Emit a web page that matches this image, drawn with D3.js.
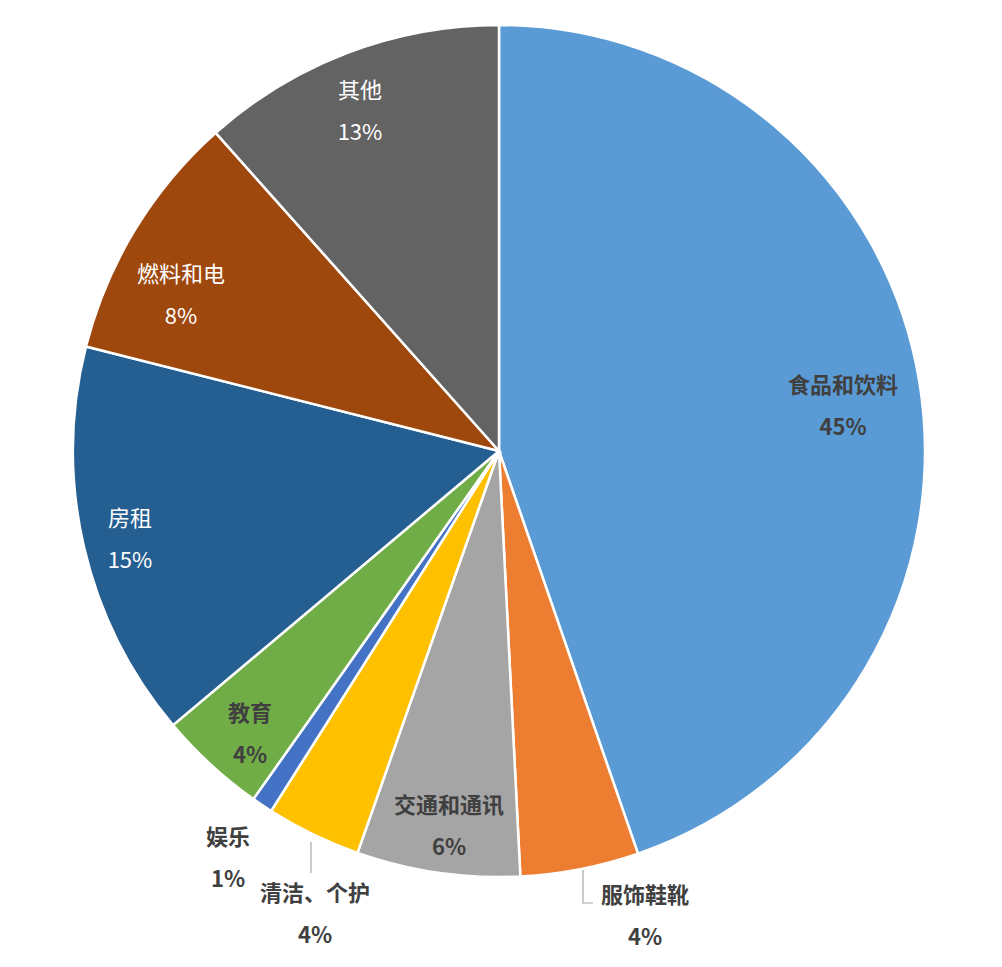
<!DOCTYPE html>
<html><head><meta charset="utf-8">
<script src="https://cdn.jsdelivr.net/npm/d3@7"></script>
<style>body{margin:0;background:#fff}</style></head>
<body><svg id="c" width="1002" height="967"></svg>
<script>
const categories = ["食品和饮料","服饰鞋靴","交通和通讯","清洁、个护","娱乐","教育","房租","燃料和电","其他"];
const values = [44.8,4.5,6.2,3.6,0.8,4.1,15.1,9.5,11.6];
const pctLabels = ["45%","4%","6%","4%","1%","4%","15%","8%","13%"];
const colors = ["#5B9BD5","#ED7D31","#A5A5A5","#FFC000","#4472C4","#70AD47","#255E91","#9E480E","#636363"];
const labelOffsets = [[344,-66],[146,444],[-50,354],[-184,442],[-271,386],[-249,262],[-369,67],[-318,-177],[-139,-361]];
const lightText = [false,false,false,false,false,false,true,true,true];

const cx=499, cy=451, R=426;
const svg=d3.select("#c");
const g=svg.append("g").attr("transform",`translate(${cx},${cy})`);
const pie=d3.pie().sort(null).value(d=>d)(values);
const arc=d3.arc().innerRadius(0).outerRadius(R);
g.selectAll("path").data(pie).join("path").attr("d",arc)
 .attr("fill",(d,i)=>colors[i]).attr("stroke","#fff").attr("stroke-width",2.5);

// leader lines
const lead=[[1,[[84,419],[84,452],[94,452]]],[3,[[-188,391],[-188,422]]]];
lead.forEach(([i,pts])=>g.append("path").attr("d",d3.line()(pts)).attr("fill","none").attr("stroke","#A6A6A6").attr("stroke-width",1.2));

categories.forEach((c,i)=>{
  const [dx,dy]=labelOffsets[i];
  const t=g.append("text").attr("x",dx).attr("y",dy).attr("text-anchor","middle")
   .attr("font-family","'Noto Sans CJK SC','Noto Sans',sans-serif").attr("font-size",22)
   .attr("font-weight",lightText[i]?"normal":"bold")
   .attr("fill",lightText[i]?"#fff":"#404040");
  t.append("tspan").attr("x",dx).attr("dy","0.35em").text(c);
  t.append("tspan").attr("x",dx).attr("dy",42).text(pctLabels[i]);
});
</script></body></html>
